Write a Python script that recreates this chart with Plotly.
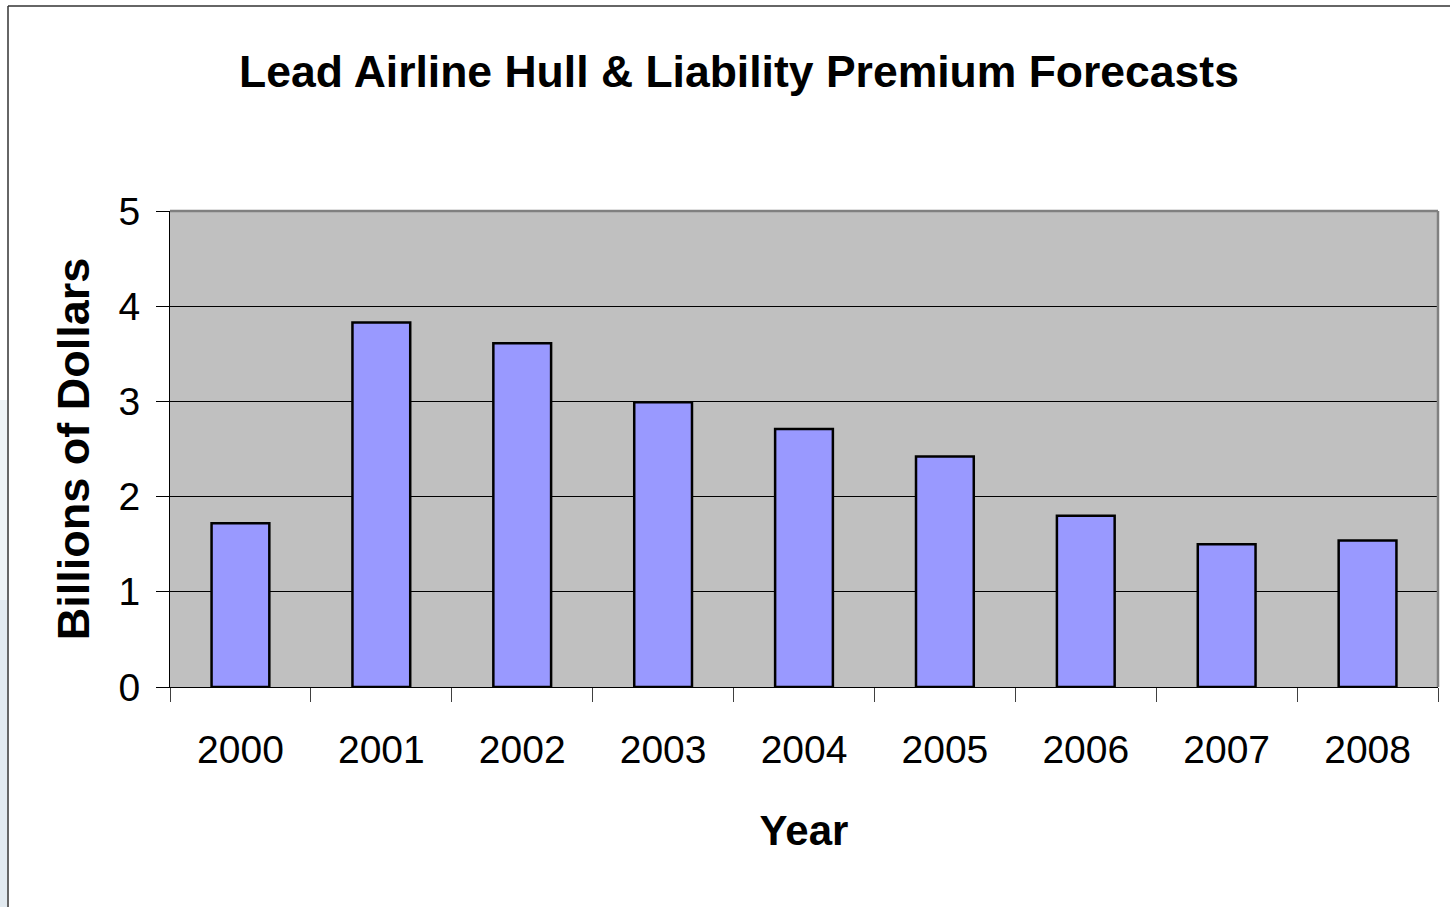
import plotly.graph_objects as go

years = ["2000", "2001", "2002", "2003", "2004", "2005", "2006", "2007", "2008"]
premiums = [1.72, 3.83, 3.61, 2.99, 2.71, 2.42, 1.80, 1.50, 1.54]
y_ticks = [0, 1, 2, 3, 4, 5]

W, H = 1450, 907
L, R, T, B = 170, 1438, 211, 687

def px(x):
    return (x - L) / (R - L)

def py(y):
    return (B - y) / (B - T)

FONT = "Liberation Sans, Arial, sans-serif"

fig = go.Figure(go.Bar(
    x=years, y=premiums,
    marker=dict(color="#9999FF", line=dict(color="#000000", width=2.5)),
))

fig.update_layout(
    width=W, height=H,
    margin=dict(l=L, r=W - R, t=T, b=H - B, pad=0),
    paper_bgcolor="white",
    plot_bgcolor="#C0C0C0",
    bargap=0.59,
    showlegend=False,
    font=dict(family=FONT, color="black"),
    title=dict(
        text="<b>Lead Airline Hull & Liability Premium Forecasts</b>",
        x=739 / W, xanchor="center", xref="container",
        y=1 - 71 / H, yanchor="middle", yref="container",
        font=dict(size=44.5, family=FONT, color="black"),
    ),
    xaxis=dict(
        type="category",
        tickson="boundaries",
        ticks="outside", ticklen=14, tickwidth=1, tickcolor="#404040",
        showline=True, linecolor="#000000", linewidth=1,
        showgrid=False,
        tickfont=dict(size=39, family=FONT),
        ticklabelstandoff=28,
        title=dict(text="<b>Year</b>", font=dict(size=42, family=FONT), standoff=45),
    ),
    yaxis=dict(
        range=[0, 5],
        tickvals=y_ticks,
        ticks="outside", ticklen=13, tickwidth=1, tickcolor="#000000",
        showline=True, linecolor="#000000", linewidth=1,
        showgrid=True, gridcolor="#000000", gridwidth=1,
        zeroline=False,
        tickfont=dict(size=39, family=FONT),
        ticklabelstandoff=8,
        title=dict(text="<b>Billions of Dollars</b>", font=dict(size=45, family=FONT), standoff=14),
    ),
    shapes=[
        # plot area border: top and right in gray
        dict(type="line", xref="paper", yref="paper", x0=0, x1=1, y0=1, y1=1,
             line=dict(color="#808080", width=2.5)),
        dict(type="line", xref="paper", yref="paper", x0=1, x1=1, y0=0, y1=1,
             line=dict(color="#808080", width=2.5)),
        # outer chart frame (left and top)
        dict(type="line", xref="paper", yref="paper", x0=px(8), x1=px(1452), y0=py(6), y1=py(6),
             line=dict(color="#333333", width=1.5)),
        dict(type="line", xref="paper", yref="paper", x0=px(8), x1=px(8), y0=py(6), y1=py(910),
             line=dict(color="#333333", width=1.5)),
        # faint bluish strip at far left
        dict(type="rect", xref="paper", yref="paper", x0=px(0), x1=px(7), y0=py(600), y1=py(910),
             fillcolor="#E2EAF0", line=dict(width=0), layer="below"),
        dict(type="rect", xref="paper", yref="paper", x0=px(0), x1=px(7), y0=py(400), y1=py(600),
             fillcolor="#EEF3F6", line=dict(width=0), layer="below"),
    ],
)

fig.write_html("out.html")
